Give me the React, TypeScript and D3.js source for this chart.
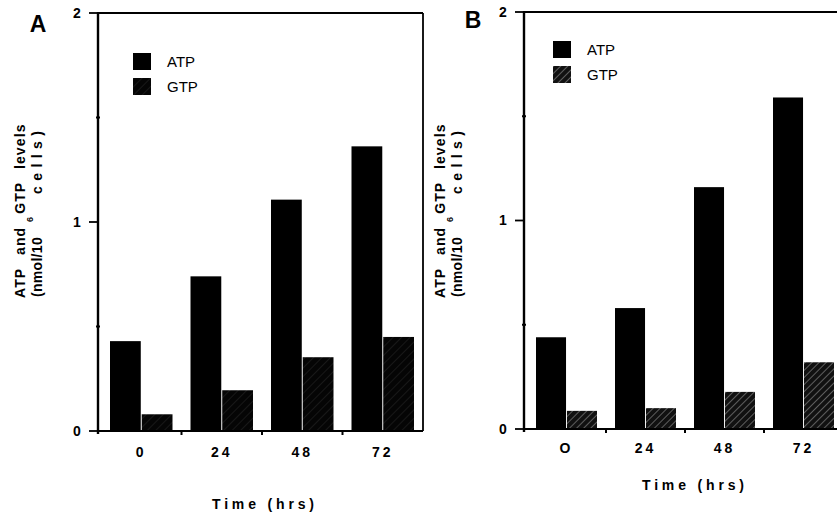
import React from "react";
import * as d3 from "d3";

// data (nmol / 10^6 cells)
const timesA = ["0", "24", "48", "72"];
const timesB = ["O", "24", "48", "72"];
const atpA = [0.43, 0.74, 1.107, 1.362];
const gtpA = [0.08, 0.195, 0.353, 0.45];
const atpB = [0.44, 0.58, 1.16, 1.59];
const gtpB = [0.087, 0.1, 0.178, 0.32];
const series = ["ATP", "GTP"];
const yTicks = [0, 1, 2];
const yMinor = [0.5, 1.5];

const FONT = "'Liberation Sans', Arial, Helvetica, sans-serif";

type PanelProps = {
  letter: string;
  cats: string[];
  atp: number[];
  gtp: number[];
  x0: number;
  x1: number;
  yTop: number;
  yBot: number;
  hatch: string;
  legendX: number;
  legendY: number;
  letterPos: [number, number];
  xLabelY: number;
  timeY: number;
  timeX: number;
};

function Panel(p: PanelProps) {
  const y = d3.scaleLinear().domain([0, 2]).range([p.yBot, p.yTop]);
  const x = d3.scaleBand<string>().domain(p.cats).range([p.x0 + 3, p.x1]).paddingInner(0).paddingOuter(0);
  const inner = d3
    .scaleBand<string>()
    .domain(series)
    .range([9, x.bandwidth() - 9])
    .paddingInner(0.03);
  const axisX = p.x0;
  const rows = p.cats.map((c, i) => ({ c, v: [p.atp[i], p.gtp[i]] }));

  return (
    <g>
      {/* frame */}
      <line x1={axisX} x2={p.x1} y1={p.yTop} y2={p.yTop} stroke="#000" strokeWidth={1.8} />
      <line x1={p.x1} x2={p.x1} y1={p.yTop} y2={p.yBot} stroke="#000" strokeWidth={1.8} />
      {/* bars */}
      {rows.map((r) =>
        r.v.map((v, j) => (
          <rect
            key={r.c + j}
            x={(x(r.c) as number) + (inner(series[j]) as number)}
            y={y(v)}
            width={inner.bandwidth()}
            height={p.yBot - y(v)}
            fill={j === 0 ? "#000" : `url(#${p.hatch})`}
          />
        ))
      )}
      {/* axes */}
      <line x1={axisX} x2={axisX} y1={p.yTop - 1} y2={p.yBot + 3} stroke="#000" strokeWidth={2.4} />
      <line x1={axisX} x2={p.x1} y1={p.yBot} y2={p.yBot} stroke="#000" strokeWidth={2.2} />
      {yTicks.map((t) => (
        <g key={t}>
          <line x1={axisX - 9} x2={axisX} y1={y(t)} y2={y(t)} stroke="#000" strokeWidth={1.8} />
          <text
            x={axisX - 21}
            y={y(t)}
            dy="0.35em"
            textAnchor="middle"
            fontFamily={FONT}
            fontWeight="bold"
            fontSize={14}
          >
            {t}
          </text>
        </g>
      ))}
      {yMinor.map((t) => (
        <line key={t} x1={axisX - 2} x2={axisX + 2} y1={y(t)} y2={y(t)} stroke="#000" strokeWidth={2} />
      ))}
      {p.cats.slice(1).map((c) => (
        <line
          key={c}
          x1={x(c) as number}
          x2={x(c) as number}
          y1={p.yBot}
          y2={p.yBot + 4}
          stroke="#000"
          strokeWidth={2}
        />
      ))}
      {p.cats.map((c) => (
        <text
          key={c}
          x={(x(c) as number) + x.bandwidth() / 2}
          y={p.xLabelY}
          dy="0.35em"
          textAnchor="middle"
          fontFamily={FONT}
          fontWeight="bold"
          fontSize={14}
          letterSpacing={3}
        >
          {c}
        </text>
      ))}
      <text
        x={p.timeX}
        y={p.timeY}
        dy="0.35em"
        fontFamily={FONT}
        fontWeight="bold"
        fontSize={14}
        textLength={102}
        lengthAdjust="spacing"
      >
        Time (hrs)
      </text>
      {/* panel letter */}
      <text
        x={p.letterPos[0]}
        y={p.letterPos[1]}
        dy="0.35em"
        textAnchor="middle"
        fontFamily={FONT}
        fontWeight="bold"
        fontSize={23}
      >
        {p.letter}
      </text>
      {/* legend */}
      {series.map((s, i) => (
        <g key={s} transform={`translate(${p.legendX},${p.legendY + i * 25})`}>
          <rect width={18} height={17} fill={i === 0 ? "#000" : `url(#${p.hatch})`} />
          <text x={34} y={9} dy="0.35em" fontFamily={FONT} fontSize={15}>
            {s}
          </text>
        </g>
      ))}
    </g>
  );
}

function YLabel({ x1, x2, bot }: { x1: number; x2: number; bot: number }) {
  const common = { fontFamily: FONT, fontWeight: "bold" as const, fontSize: 14 };
  return (
    <g>
      <text
        transform={`translate(${x1},${bot}) rotate(-90)`}
        letterSpacing={1.1}
        wordSpacing={8}
        {...common}
      >
        ATP and GTP levels
      </text>
      <text transform={`translate(${x2},${bot - 1}) rotate(-90)`} letterSpacing={0.3} {...common}>
        (nmol/10
      </text>
      <text transform={`translate(${x2 - 9},${bot - 76}) rotate(-90)`} {...common} fontSize={9}>
        6
      </text>
      <text
        transform={`translate(${x2},${bot - 104}) rotate(-90)`}
        textLength={63}
        lengthAdjust="spacing"
        {...common}
      >
        cells)
      </text>
    </g>
  );
}

export default function App() {
  return (
    <svg
      width={837}
      height={514}
      style={{ position: "absolute", left: 0, top: 0, background: "#fff" }}
    >
      <defs>
        <pattern id="hatchA" width={6} height={6} patternUnits="userSpaceOnUse" patternTransform="rotate(45)">
          <rect width={6} height={6} fill="#050505" />
          <line x1={0} y1={0} x2={0} y2={6} stroke="#333" strokeWidth={0.8} />
        </pattern>
        <pattern id="hatchB" width={5} height={5} patternUnits="userSpaceOnUse" patternTransform="rotate(45)">
          <rect width={5} height={5} fill="#111" />
          <line x1={0} y1={0} x2={0} y2={5} stroke="#aaa" strokeWidth={1} />
        </pattern>
      </defs>
      <rect width={837} height={514} fill="#fff" />
      <YLabel x1={25} x2={42} bot={298} />
      <YLabel x1={445} x2={462} bot={298} />
      <Panel
        letter="A"
        cats={timesA}
        atp={atpA}
        gtp={gtpA}
        x0={98}
        x1={423}
        yTop={13}
        yBot={431}
        hatch="hatchA"
        legendX={133}
        legendY={53}
        letterPos={[38, 24]}
        xLabelY={452}
        timeY={504}
        timeX={212}
      />
      <Panel
        letter="B"
        cats={timesB}
        atp={atpB}
        gtp={gtpB}
        x0={524}
        x1={843}
        yTop={12}
        yBot={429}
        hatch="hatchB"
        legendX={553}
        legendY={41}
        letterPos={[473, 20]}
        xLabelY={448}
        timeY={485}
        timeX={642}
      />
    </svg>
  );
}
